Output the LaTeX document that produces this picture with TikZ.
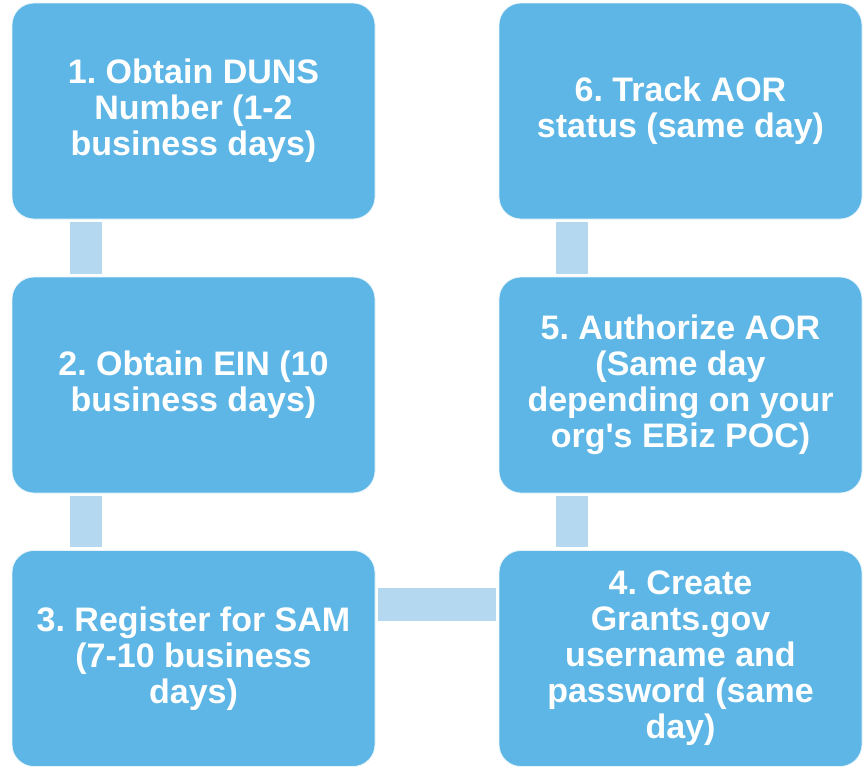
\documentclass[tikz,border=0pt]{standalone}
\usepackage{fontspec}
\setmainfont{Liberation Sans}
\frenchspacing
\definecolor{boxblue}{HTML}{5DB6E5}
\definecolor{linkblue}{HTML}{B4D8F0}
\begin{document}
\begin{tikzpicture}[x=1pt,y=-1pt,
  stepbox/.style={draw=white!85!boxblue, line width=0.8pt, fill=boxblue, rounded corners=22pt,
    minimum width=363pt, minimum height=216pt, inner sep=0pt,
    text=white, align=center, font=\fontsize{34}{36}\selectfont\bfseries},
  link/.style={fill=linkblue, draw=none}]
\useasboundingbox (0,0) rectangle (865,766);
\node[stepbox] (s1) at (193.5,111) {1. Obtain DUNS\\Number (1-2\\business days)};
\node[stepbox] (s2) at (193.5,385) {2. Obtain EIN (10\\business days)};
\node[stepbox] (s3) at (193.5,658.5) {3. Register for SAM\\(7-10 business\\days)};
\node[stepbox] (s4) at (680.5,658.5) {4. Create\\Grants.gov\\username and\\password (same\\day)};
\node[stepbox] (s5) at (680.5,385) {5. Authorize AOR\\(Same day\\depending on your\\org\textquotesingle s EBiz POC)};
\node[stepbox] (s6) at (680.5,111) {6. Track AOR\\status (same day)};
% connectors
\fill[link] ([xshift=-124pt,yshift=-3pt]s1.south) rectangle ([xshift=-92pt,yshift=3pt]s2.north);
\fill[link] ([xshift=-124pt,yshift=-3pt]s2.south) rectangle ([xshift=-92pt,yshift=3pt]s3.north);
\fill[link] ([xshift=3pt,yshift=71pt]s3.east) rectangle ([xshift=-3pt,yshift=38pt]s4.west);
\fill[link] ([xshift=-125pt,yshift=-3pt]s5.south) rectangle ([xshift=-93pt,yshift=3pt]s4.north);
\fill[link] ([xshift=-125pt,yshift=-3pt]s6.south) rectangle ([xshift=-93pt,yshift=3pt]s5.north);
\end{tikzpicture}
\end{document}
